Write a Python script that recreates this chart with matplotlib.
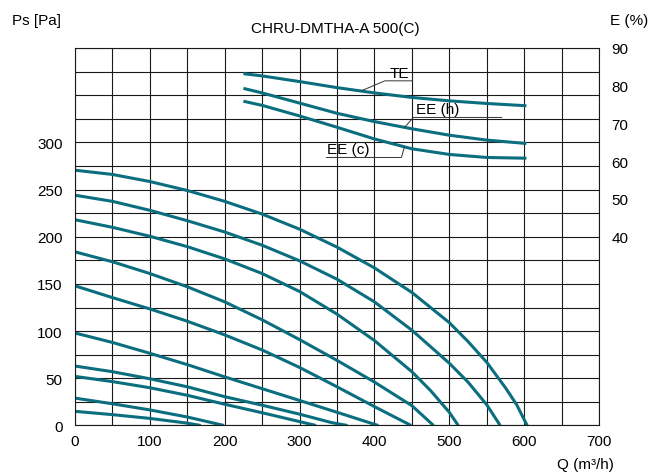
import matplotlib
matplotlib.use("Agg")
import matplotlib.pyplot as plt

plt.rcParams['font.family'] = ['Liberation Sans', 'DejaVu Sans']
plt.rcParams['font.size'] = 11

CURVE_COLOR = '#0b6e7f'
GRID_COLOR = '#1a1a1a'

# fan curves: air flow Q (m3/h) and static pressure Ps (Pa)
q1 = [0, 50, 100, 150, 168]
ps1 = [15, 11.5, 7.5, 2.5, 0]
q2 = [0, 50, 100, 150, 199]
ps2 = [29, 23, 16.5, 9, 0]
q3 = [0, 50, 100, 150, 200, 250, 290, 322]
ps3 = [52, 46.5, 40, 32, 22.5, 13.5, 6, 0]
q4 = [0, 50, 100, 150, 200, 250, 300, 343, 364]
ps4 = [63, 57, 49.5, 41, 30.5, 21.5, 12, 3, 0]
q5 = [0, 50, 100, 150, 200, 250, 300, 350, 405]
ps5 = [98, 88, 76.5, 64.5, 51.5, 39, 26.5, 14, 0]
q6 = [0, 50, 100, 150, 200, 250, 300, 350, 400, 449]
ps6 = [148, 135.5, 123.5, 110.5, 96, 80, 61.5, 41, 20, 0]
q7 = [0, 50, 100, 150, 200, 250, 300, 350, 400, 450, 479]
ps7 = [184, 173.5, 161, 147, 131, 112, 91, 69, 46, 21, 0]
q8 = [0, 50, 100, 150, 200, 250, 300, 350, 400, 450, 475, 500, 512]
ps8 = [218, 210, 200.5, 189.5, 176.5, 161, 142, 118, 90, 57, 37, 14, 0]
q9 = [0, 50, 100, 150, 200, 250, 300, 350, 400, 450, 500, 525, 550, 568]
ps9 = [244, 237.5, 228, 217, 205, 191, 174.5, 155, 131, 101, 66, 46, 22, 0]
q10 = [0, 50, 100, 150, 200, 250, 300, 350, 400, 450, 500, 525, 550, 575, 590, 604]
ps10 = [270.5, 266, 258.5, 249, 237.5, 224, 208, 189, 167, 141, 109, 89, 67, 40, 22, 0]

fan_curves = [(q1, ps1), (q2, ps2), (q3, ps3), (q4, ps4), (q5, ps5),
              (q6, ps6), (q7, ps7), (q8, ps8), (q9, ps9), (q10, ps10)]

# efficiency curves (%)
q_eff = [225, 250, 300, 350, 400, 450, 500, 550, 603]
te = [83.2, 82.6, 81.1, 79.5, 78.1, 76.9, 76.0, 75.3, 74.7]
ee_h = [79.3, 78.1, 75.4, 72.7, 70.5, 68.6, 66.9, 65.6, 64.7]
ee_c = [75.9, 74.8, 72.0, 69.0, 65.9, 63.3, 61.8, 61.0, 60.8]

x_ticks = [0, 100, 200, 300, 400, 500, 600, 700]
ps_ticks = [0, 50, 100, 150, 200, 250, 300]
e_ticks = [40, 50, 60, 70, 80, 90]

title = 'CHRU-DMTHA-A 500(C)'

fig = plt.figure(figsize=(6.48, 4.77), dpi=100)
ax = fig.add_axes([0.1157, 0.1059, 0.8087, 0.7914])

ax.set_xlim(0, 700)
ax.set_ylim(0, 400)
ax.set_xticks(x_ticks)
ax.set_xticks(range(0, 701, 50), minor=True)
ax.set_yticks(ps_ticks)
ax.set_yticks(range(0, 401, 25), minor=True)
ax.grid(which='both', color=GRID_COLOR, linewidth=0.8)
ax.tick_params(which='both', length=0)
ax.tick_params(axis='y', pad=9)
ax.tick_params(axis='x', pad=6)
for s in ax.spines.values():
    s.set_color(GRID_COLOR)
    s.set_linewidth(0.8)

for q, ps in fan_curves:
    ax.plot(q, ps, color=CURVE_COLOR, linewidth=2.2,
            solid_capstyle='butt', solid_joinstyle='round')

ax2 = ax.twinx()
ax2.set_ylim(-10, 90)
ax2.set_yticks(e_ticks)
ax2.tick_params(length=0, pad=9)
for s in ax2.spines.values():
    s.set_visible(False)

for e in (te, ee_h, ee_c):
    ax2.plot(q_eff, e, color=CURVE_COLOR, linewidth=2.2,
             solid_capstyle='butt', solid_joinstyle='round')

# labels with leader lines
lc = '#333333'
ax2.plot([383, 414, 451], [78.7, 81.3, 81.3], color=lc, linewidth=0.7)
ax2.text(433, 81.6, 'TE', ha='center', va='bottom')
ax2.plot([440, 452, 570], [68.9, 71.6, 71.6], color=lc, linewidth=0.7)
ax2.text(485, 71.9, 'EE (h)', ha='center', va='bottom')
ax2.plot([440, 436, 336], [63.7, 61.0, 61.0], color=lc, linewidth=0.7)
ax2.text(365, 61.3, 'EE (c)', ha='center', va='bottom')

fig.text(0.518, 0.93, title, ha='center', va='baseline')
fig.text(0.0185, 0.948, 'Ps [Pa]', ha='left', va='baseline')
fig.text(0.941, 0.948, 'E (%)', ha='left', va='baseline')
fig.text(0.904, 0.017, 'Q (m³/h)', ha='center', va='baseline')

fig.savefig('out.png', dpi=100)
